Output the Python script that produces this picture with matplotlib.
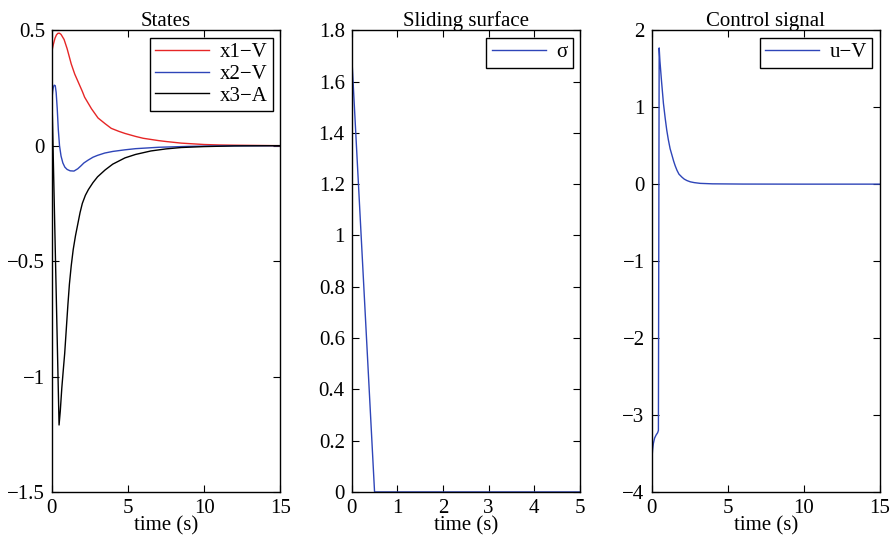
import matplotlib.pyplot as plt
import numpy as np

plt.rcParams['font.family'] = ['Liberation Serif', 'DejaVu Serif']
plt.rcParams['font.size'] = 15

# States
t_x1 = [0, 0.1, 0.2, 0.3, 0.4, 0.5, 0.6, 0.8, 1.0, 1.27, 1.5, 1.7, 2.0, 2.15, 2.6, 3.03,
        3.5, 3.9, 4.4, 4.8, 5.5, 6.0, 7.0, 7.5, 8.5, 9.0, 10.0, 11.0, 12.0, 13.5, 15.0]
x1 = [0.41, 0.44, 0.465, 0.48, 0.487, 0.487, 0.482, 0.46, 0.42, 0.354, 0.31, 0.28, 0.235, 0.21, 0.16, 0.12,
      0.095, 0.075, 0.062, 0.053, 0.04, 0.032, 0.022, 0.018, 0.011, 0.009, 0.005, 0.003, 0.002, 0.001, 0.0]

t_x2 = [0, 0.05, 0.1, 0.15, 0.22, 0.28, 0.35, 0.42, 0.5, 0.6, 0.72, 0.85, 1.0, 1.2, 1.45, 1.7,
        1.9, 2.1, 2.37, 2.7, 3.0, 3.47, 4.0, 4.8, 5.5, 6.0, 7.0, 8.0, 9.0, 10.5, 12.0, 15.0]
x2 = [0.20, 0.235, 0.255, 0.262, 0.26, 0.23, 0.16, 0.07, 0.0, -0.045, -0.075, -0.093, -0.103, -0.109, -0.11, -0.1,
      -0.088, -0.075, -0.063, -0.05, -0.042, -0.032, -0.025, -0.018, -0.013, -0.011, -0.007, -0.005, -0.003, -0.0015, -0.0007, 0.0]

t_x3 = [0, 0.47, 0.55, 0.65, 0.75, 0.84, 0.95, 1.05, 1.15, 1.27, 1.4, 1.55, 1.7, 1.85, 2.0, 2.2,
        2.4, 2.7, 3.0, 3.5, 4.0, 4.8, 5.5, 6.5, 7.5, 8.5, 10.0, 12.0, 15.0]
x3 = [0.22, -1.21, -1.15, -1.05, -0.97, -0.9, -0.79, -0.69, -0.6, -0.52, -0.45, -0.39, -0.34, -0.29, -0.25, -0.215,
      -0.19, -0.16, -0.135, -0.105, -0.08, -0.053, -0.038, -0.023, -0.014, -0.008, -0.004, -0.001, 0.0]

# Sliding surface
t_sigma = [0, 0.5, 5.0]
sigma = [1.7, 0.0, 0.0]

# Control signal
t_u = [0, 0.03, 0.07, 0.12, 0.2, 0.3, 0.4, 0.45, 0.5, 0.55, 0.65, 0.78, 0.9, 1.0, 1.1, 1.22,
       1.35, 1.45, 1.55, 1.67, 1.8, 2.0, 2.15, 2.33, 2.55, 2.8, 3.2, 4.0, 6.0, 10.0, 15.0]
u = [-3.66, -3.55, -3.45, -3.37, -3.3, -3.26, -3.23, -3.2, 1.77, 1.6, 1.35, 1.05, 0.85, 0.7, 0.58, 0.46,
     0.37, 0.3, 0.24, 0.18, 0.13, 0.09, 0.065, 0.046, 0.03, 0.02, 0.01, 0.004, 0.001, 0.0, 0.0]

red = (0.90, 0.15, 0.15)
blue = (0.18, 0.27, 0.72)

fig = plt.figure(figsize=(8.95, 5.4), dpi=100)
ax1 = fig.add_axes([0.058, 0.089, 0.255, 0.855])
ax2 = fig.add_axes([0.393, 0.089, 0.255, 0.855])
ax3 = fig.add_axes([0.728, 0.089, 0.255, 0.855])


def style(ax):
    ax.tick_params(direction='in', top=True, right=True, length=5, width=0.8, pad=5)
    for s in ax.spines.values():
        s.set_linewidth(1.0)


def leg(ax):
    lg = ax.legend(loc='upper right', fancybox=False, framealpha=1, edgecolor='black',
                   handlelength=2.6, borderpad=0.25, labelspacing=0.1, borderaxespad=0.35,
                   handletextpad=0.5, fontsize=15)
    lg.get_frame().set_linewidth(1.0)


ax1.plot(t_x1, x1, color=red, lw=1.0, label='x1\u2212V')
ax1.plot(t_x2, x2, color=blue, lw=1.0, label='x2\u2212V')
ax1.plot(t_x3, x3, color='black', lw=1.0, label='x3\u2212A')
ax1.set_xlim(0, 15)
ax1.set_ylim(-1.5, 0.5)
ax1.set_xticks([0, 5, 10, 15])
ax1.set_yticks([-1.5, -1, -0.5, 0, 0.5])
ax1.set_yticklabels(['\u22121.5', '\u22121', '\u22120.5', '0', '0.5'])
ax1.set_title('States', fontsize=15, pad=3)
ax1.set_xlabel('time (s)', labelpad=-1)
leg(ax1)
style(ax1)

ax2.plot(t_sigma, sigma, color=blue, lw=1.0, label='\u03c3')
ax2.set_xlim(0, 5)
ax2.set_ylim(0, 1.8)
ax2.set_xticks([0, 1, 2, 3, 4, 5])
ax2.set_yticks(np.arange(0, 1.81, 0.2))
ax2.set_yticklabels(['0', '0.2', '0.4', '0.6', '0.8', '1', '1.2', '1.4', '1.6', '1.8'])
ax2.set_title('Sliding surface', fontsize=15, pad=3)
ax2.set_xlabel('time (s)', labelpad=-1)
leg(ax2)
style(ax2)

ax3.plot(t_u, u, color=blue, lw=1.0, label='u\u2212V')
ax3.set_xlim(0, 15)
ax3.set_ylim(-4, 2)
ax3.set_xticks([0, 5, 10, 15])
ax3.set_yticks([-4, -3, -2, -1, 0, 1, 2])
ax3.set_yticklabels(['\u22124', '\u22123', '\u22122', '\u22121', '0', '1', '2'])
ax3.set_title('Control signal', fontsize=15, pad=3)
ax3.set_xlabel('time (s)', labelpad=-1)
leg(ax3)
style(ax3)

fig.savefig('out.png', dpi=100)
